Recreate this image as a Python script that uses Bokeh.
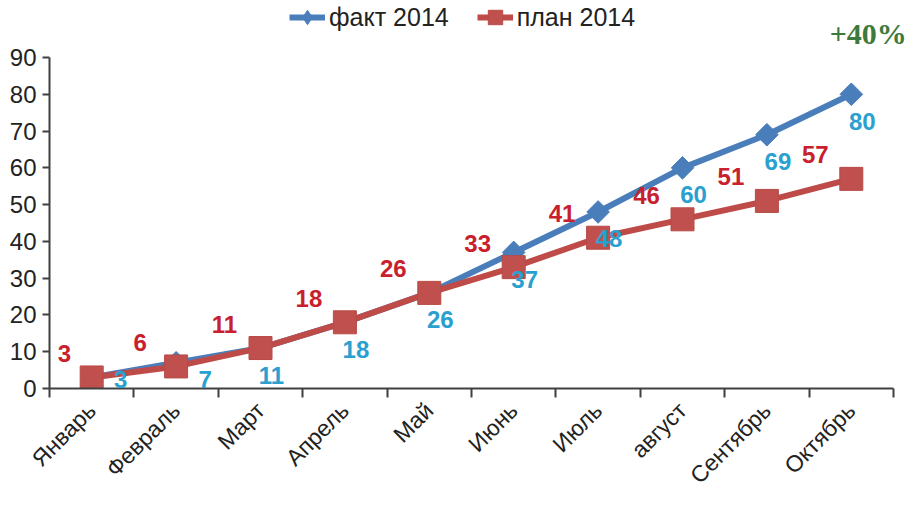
import numpy as np
from bokeh.plotting import figure
from bokeh.models import (Range1d, FixedTicker, Legend, LegendItem, Label,
                          LabelSet, ColumnDataSource)
from bokeh.core.properties import value
from bokeh.embed import file_html
from bokeh.resources import INLINE

months = ["Январь", "Февраль", "Март", "Апрель", "Май", "Июнь", "Июль",
          "август", "Сентябрь", "Октябрь"]
fact_2014 = [3, 7, 11, 18, 26, 37, 48, 60, 69, 80]
plan_2014 = [3, 6, 11, 18, 26, 33, 41, 46, 51, 57]
y_ticks = [0, 10, 20, 30, 40, 50, 60, 70, 80, 90]
y_max = 90
growth_note = "+40%"

FONT = "Liberation Sans"
AXIS_COLOR = "#404040"
FACT_COLOR = "#4a7ebb"
PLAN_COLOR = "#be4b48"

# layout (pixels inside the 906x500 figure)
W, H = 906, 500
LEFT = 49          # y axis position
AXIS_RIGHT = 893   # end of x axis line
TOP_90 = 57        # pixel row of y = 90
BOTTOM = 112       # height reserved for the rotated month labels
frame_bottom = H - BOTTOM

n = len(months)
xc = [i + 0.5 for i in range(n)]
px_per_x = (AXIS_RIGHT - LEFT) / n
px_per_y = (frame_bottom - TOP_90) / y_max

p = figure(width=W, height=H, output_backend="svg", toolbar_location=None,
           x_range=Range1d(0, n + (W - AXIS_RIGHT) / px_per_x),
           y_range=Range1d(0, y_max + TOP_90 / px_per_y),
           min_border_left=LEFT, min_border_right=0, min_border_top=0,
           min_border_bottom=BOTTOM)
p.outline_line_color = None
p.grid.visible = False
p.background_fill_color = "white"
p.border_fill_color = "white"

# x axis: month labels at category centres, ticks at category boundaries
xa = p.xaxis[0]
xa.bounds = (0, n)
xa.ticker = FixedTicker(ticks=xc, minor_ticks=list(range(n + 1)))
xa.major_label_overrides = {float(v): m for v, m in zip(xc, months)}
xa.major_tick_out = 0
xa.major_tick_in = 0
xa.minor_tick_out = 9
xa.minor_tick_in = 0
xa.minor_tick_line_color = AXIS_COLOR
xa.minor_tick_line_width = 2
xa.axis_line_color = AXIS_COLOR
xa.axis_line_width = 2
xa.major_label_orientation = np.pi / 4
xa.major_label_standoff = 9
xa.major_label_text_font = FONT
xa.major_label_text_font_size = "23px"
xa.major_label_text_color = "#222222"

ya = p.yaxis[0]
ya.bounds = (0, y_max)
ya.ticker = FixedTicker(ticks=y_ticks)
ya.major_tick_out = 7
ya.major_tick_in = 0
ya.minor_tick_out = 0
ya.minor_tick_in = 0
ya.major_tick_line_color = AXIS_COLOR
ya.major_tick_line_width = 2
ya.axis_line_color = AXIS_COLOR
ya.axis_line_width = 2
ya.major_label_standoff = 6
ya.major_label_text_font = FONT
ya.major_label_text_font_size = "24px"
ya.major_label_text_color = "#222222"

r_fl = p.line(xc, fact_2014, line_color=FACT_COLOR, line_width=6)
# legend-shaped diamond, fully covered by the square diamond drawn over it
r_fd = p.scatter(xc, fact_2014, marker="diamond", size=20,
                 fill_color=FACT_COLOR, line_color=FACT_COLOR)
p.scatter(xc, fact_2014, marker="square", angle=np.pi / 4, size=16,
          fill_color=FACT_COLOR, line_color=FACT_COLOR)
r_pl = p.line(xc, plan_2014, line_color=PLAN_COLOR, line_width=6)
r_pm = p.scatter(xc, plan_2014, marker="square", size=23,
                 fill_color="#c0504d", line_color="#b84a47")

# data labels: plan above-left, fact below-right (kept clear of the axes)
plan_dx = [max(-36, 15 - x * px_per_x) for x in xc]
plan_src = ColumnDataSource(dict(x=xc, y=plan_2014, dx=plan_dx,
                                 text=[str(v) for v in plan_2014]))
p.add_layout(LabelSet(x="x", y="y", text="text", source=plan_src, x_offset="dx",
                      y_offset=24, text_align="center", text_baseline="middle",
                      text_font=value(FONT), text_font_style="bold",
                      text_font_size="24px", text_color="#c8202c"))

below_px, min_px = 27, 9
fact_ly = [max(v - below_px / px_per_y, min_px / px_per_y) for v in fact_2014]
fact_dx = [11 + (18 if v - below_px / px_per_y < min_px / px_per_y else 0)
           for v in fact_2014]
fact_src = ColumnDataSource(dict(x=xc, y=fact_ly, dx=fact_dx,
                                 text=[str(v) for v in fact_2014]))
p.add_layout(LabelSet(x="x", y="y", text="text", source=fact_src, x_offset="dx",
                      text_align="center", text_baseline="middle",
                      text_font=value(FONT), text_font_style="bold",
                      text_font_size="24px", text_color="#2aa0d0"))

legend = Legend(items=[LegendItem(label="факт 2014", renderers=[r_fl, r_fd]),
                       LegendItem(label="план 2014", renderers=[r_pl, r_pm])],
                orientation="horizontal", location=(240, frame_bottom - 36),
                label_text_font=FONT, label_text_font_size="25px",
                label_text_color="#222222",
                glyph_width=36, glyph_height=38, spacing=28, padding=0, margin=0,
                label_standoff=4, border_line_alpha=0, background_fill_alpha=0)
p.add_layout(legend)

p.add_layout(Label(x=9.7, y=y_max + (TOP_90 - 33) / px_per_y, text=growth_note,
                   text_align="center", text_baseline="middle",
                   text_font="Liberation Serif", text_font_style="bold",
                   text_font_size="30px", text_color="#3d7a3d"))

open("out.html", "w").write(file_html(p, INLINE))
